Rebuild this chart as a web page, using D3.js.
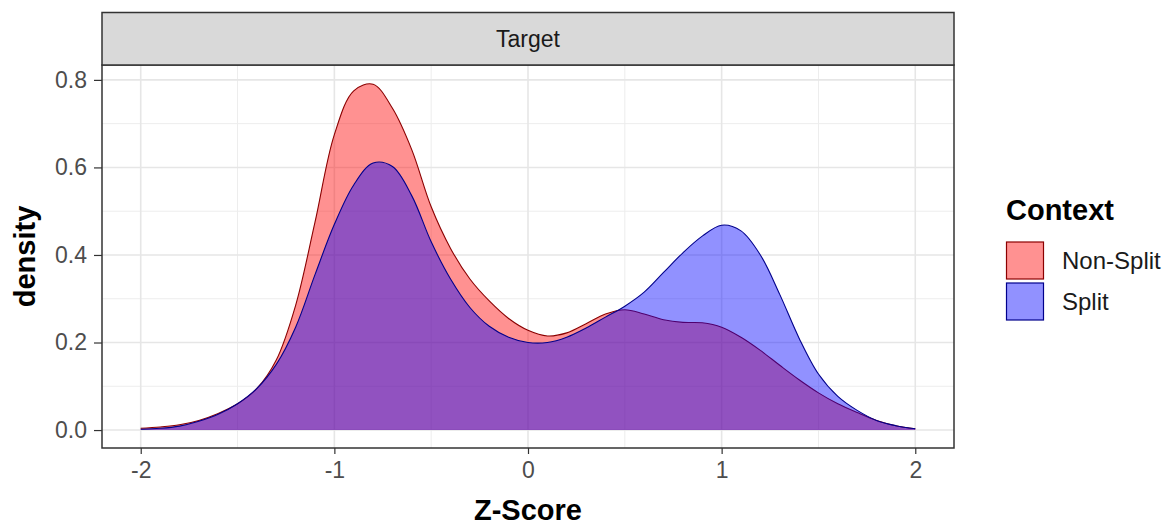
<!DOCTYPE html>
<html>
<head>
<meta charset="utf-8">
<script src="https://cdn.jsdelivr.net/npm/d3@7"></script>
<style>
  body { margin: 0; background: #fff; }
  svg { display: block; font-family: "Liberation Sans", Arial, sans-serif; }
  .tick text { fill: #4d4d4d; font-size: 23px; }
  .tick line { stroke: #333; stroke-width: 1.2; }
  .domain { display: none; }
  .axisTitle { font-weight: bold; font-size: 29px; fill: #000; }
</style>
</head>
<body>
<svg id="chart" width="1175" height="529"></svg>
<script>
// Data
const zScores = [-2.0, -1.9, -1.8, -1.7, -1.6, -1.5, -1.4, -1.3, -1.2, -1.1, -1.0,
  -0.9, -0.8, -0.7, -0.6, -0.5, -0.4, -0.3, -0.2, -0.1, 0.0,
  0.1, 0.2, 0.3, 0.4, 0.5, 0.6, 0.7, 0.8, 0.9, 1.0,
  1.1, 1.2, 1.3, 1.4, 1.5, 1.6, 1.7, 1.8, 1.9, 2.0];

const nonSplitDensity = [0.004, 0.007, 0.012, 0.022, 0.038, 0.06, 0.095, 0.16, 0.285, 0.475, 0.675,
  0.775, 0.79, 0.735, 0.64, 0.51, 0.415, 0.345, 0.295, 0.255, 0.228,
  0.215, 0.222, 0.243, 0.265, 0.275, 0.265, 0.252, 0.246, 0.245, 0.235,
  0.212, 0.182, 0.148, 0.115, 0.085, 0.06, 0.04, 0.022, 0.01, 0.003];

const splitDensity = [0.002, 0.004, 0.009, 0.02, 0.036, 0.06, 0.095, 0.15, 0.235, 0.355, 0.47,
  0.56, 0.61, 0.602, 0.535, 0.43, 0.345, 0.28, 0.237, 0.212, 0.2,
  0.2, 0.212, 0.233, 0.258, 0.283, 0.315, 0.36, 0.405, 0.443, 0.468,
  0.455, 0.4, 0.31, 0.21, 0.128, 0.077, 0.045, 0.022, 0.01, 0.003];

const contexts = ["Non-Split", "Split"];
const fillColors = ["rgba(255,0,0,0.43)", "rgba(0,0,255,0.43)"];
const lineColors = ["#8b0000", "#00008b"];
const legendFills = ["#ff9191", "#9191ff"];

const xTicks = [-2, -1, 0, 1, 2];
const xMinor = [-1.5, -0.5, 0.5, 1.5];
const yTicks = [0, 0.2, 0.4, 0.6, 0.8];
const yMinor = [0.1, 0.3, 0.5, 0.7];
const xLimits = [-2.2, 2.2];
const yLimits = [-0.041, 0.834];

const svg = d3.select("#chart");
const panel = { left: 102, right: 954, top: 65, bottom: 448 };
const stripTop = 12.5;

const x = d3.scaleLinear().domain(xLimits).range([panel.left, panel.right]);
const y = d3.scaleLinear().domain(yLimits).range([panel.bottom, panel.top]);

// Gridlines
const grid = svg.append("g");
grid.selectAll(".vmin").data(xMinor).enter().append("line")
  .attr("x1", d => x(d)).attr("x2", d => x(d))
  .attr("y1", panel.top).attr("y2", panel.bottom)
  .attr("stroke", "#ededed").attr("stroke-width", 1);
grid.selectAll(".hmin").data(yMinor).enter().append("line")
  .attr("x1", panel.left).attr("x2", panel.right)
  .attr("y1", d => y(d)).attr("y2", d => y(d))
  .attr("stroke", "#ededed").attr("stroke-width", 1);
grid.selectAll(".vmaj").data(xTicks).enter().append("line")
  .attr("x1", d => x(d)).attr("x2", d => x(d))
  .attr("y1", panel.top).attr("y2", panel.bottom)
  .attr("stroke", "#e6e6e6").attr("stroke-width", 1.6);
grid.selectAll(".hmaj").data(yTicks).enter().append("line")
  .attr("x1", panel.left).attr("x2", panel.right)
  .attr("y1", d => y(d)).attr("y2", d => y(d))
  .attr("stroke", "#e6e6e6").attr("stroke-width", 1.6);

// Density areas
const series = [nonSplitDensity, splitDensity];
const area = d3.area()
  .x((d, i) => x(zScores[i]))
  .y0(y(0))
  .y1(d => y(d))
  .curve(d3.curveCatmullRom);
const line = d3.line()
  .x((d, i) => x(zScores[i]))
  .y(d => y(d))
  .curve(d3.curveCatmullRom);

series.forEach((vals, k) => {
  svg.append("path").attr("d", area(vals))
    .attr("fill", fillColors[k]);
  svg.append("path").attr("d", line(vals))
    .attr("fill", "none")
    .attr("stroke", lineColors[k])
    .attr("stroke-width", 1.1);
});

// Panel border
svg.append("rect")
  .attr("x", panel.left).attr("y", panel.top)
  .attr("width", panel.right - panel.left).attr("height", panel.bottom - panel.top)
  .attr("fill", "none").attr("stroke", "#333").attr("stroke-width", 1.5);

// Facet strip
svg.append("rect")
  .attr("x", panel.left).attr("y", stripTop)
  .attr("width", panel.right - panel.left).attr("height", panel.top - stripTop)
  .attr("fill", "#d9d9d9").attr("stroke", "#333").attr("stroke-width", 1.5);
svg.append("text")
  .attr("x", (panel.left + panel.right) / 2).attr("y", (stripTop + panel.top) / 2)
  .attr("dy", "0.36em")
  .attr("text-anchor", "middle")
  .style("font-size", "23px").style("fill", "#1a1a1a")
  .text("Target");

// Axes
svg.append("g")
  .attr("transform", `translate(0,${panel.bottom})`)
  .call(d3.axisBottom(x).tickValues(xTicks).tickSize(6).tickPadding(8)
    .tickFormat(d => String(d)));
svg.append("g")
  .attr("transform", `translate(${panel.left},0)`)
  .call(d3.axisLeft(y).tickValues(yTicks).tickSize(8).tickPadding(7)
    .tickFormat(d => d.toFixed(1)));

// Axis titles
svg.append("text").attr("class", "axisTitle")
  .attr("x", (panel.left + panel.right) / 2).attr("y", 520)
  .attr("text-anchor", "middle")
  .text("Z-Score");
svg.append("text").attr("class", "axisTitle")
  .attr("transform", `translate(35,${(panel.top + panel.bottom) / 2}) rotate(-90)`)
  .attr("text-anchor", "middle")
  .text("density");

// Legend
const legend = svg.append("g").attr("transform", "translate(1006,0)");
legend.append("text").attr("class", "axisTitle")
  .attr("x", 0).attr("y", 220)
  .text("Context");
const keyH = 39;
contexts.forEach((c, k) => {
  const ky = 242 + k * (keyH + 2);
  legend.append("rect")
    .attr("x", 0.5).attr("y", ky)
    .attr("width", 37).attr("height", keyH - 2)
    .attr("fill", legendFills[k])
    .attr("stroke", lineColors[k]).attr("stroke-width", 1.2);
  legend.append("text")
    .attr("x", 56).attr("y", ky + (keyH - 2) / 2)
    .attr("dy", "0.36em")
    .style("font-size", "24px").style("fill", "#1a1a1a")
    .text(c);
});
</script>
</body>
</html>
